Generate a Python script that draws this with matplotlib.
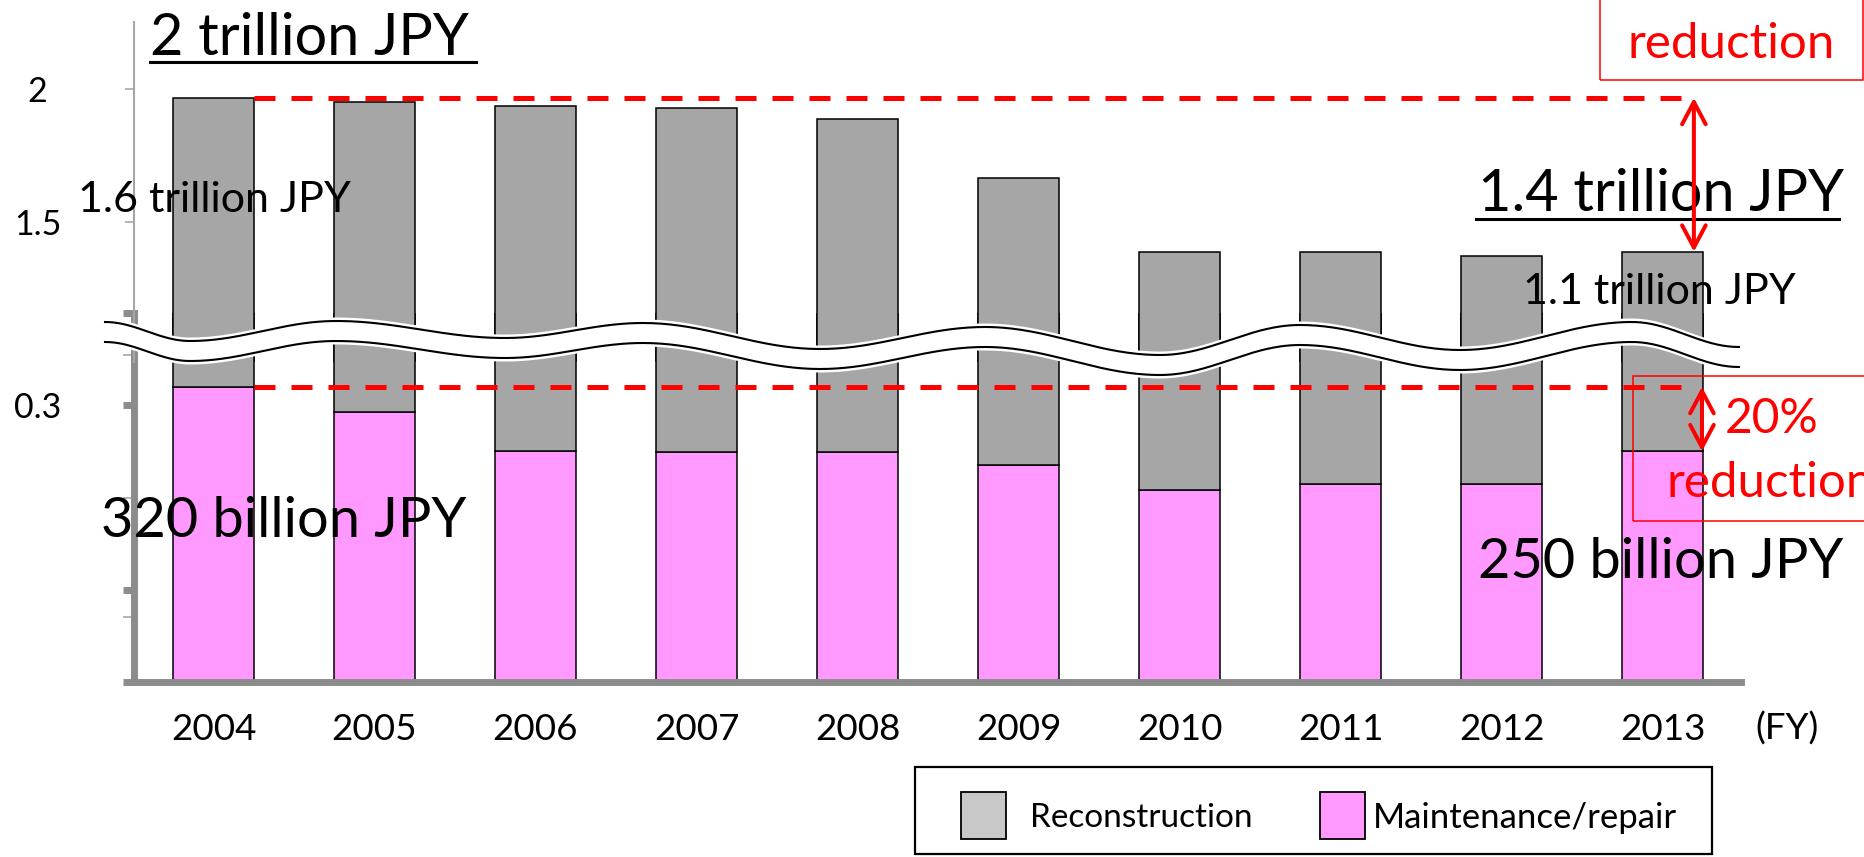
import numpy as np
import matplotlib
matplotlib.use("Agg")
import matplotlib.pyplot as plt
from matplotlib.patches import Rectangle, Polygon, FancyArrowPatch
from matplotlib.lines import Line2D
from matplotlib.ticker import FixedLocator, FixedFormatter

plt.rcParams['font.family'] = ['Lato', 'DejaVu Sans']

# ---- data (trillion JPY) ----
years = ['2004', '2005', '2006', '2007', '2008', '2009', '2010', '2011', '2012', '2013']
maintenance = [0.320, 0.2925, 0.250, 0.249, 0.249, 0.235, 0.208, 0.2145, 0.2145, 0.250]
reconstruction = [1.647, 1.6595, 1.686, 1.679, 1.639, 1.429, 1.179, 1.1725, 1.1585, 1.138]
upper_ticks = [1.5, 2.0]
upper_tick_labels = ['1.5', '2']
lower_ticks = [0.0, 0.1, 0.3, 0.4]
lower_tick_labels = ['', '', '0.3', '']
legend_labels = ['Reconstruction', 'Maintenance/repair']

totals = [m + r for m, r in zip(maintenance, reconstruction)]

# ---- styling ----
GRAY = '#a6a6a6'
GRAY_LEGEND = '#c8c8c8'
PINK = '#ff99ff'
AXIS_GRAY = '#8c8c8c'
RED = '#ff0000'

W, H = 1864, 857
fig = plt.figure(figsize=(W / 100, H / 100), dpi=100)


def fx(x):
    return x / W


def fy(y):
    return 1 - y / H


def px_to_pt(p):
    return p * 72 / 100


# two panels of a broken axis: lower (0 - 0.4) and upper (~1 - 2.25)
left_px, right_px = 133.5, 1741
pitch, first_center = 161.0, 213.5
xlim = ((left_px - first_center) / pitch, (right_px - first_center) / pitch)

ax_lo = fig.add_axes([fx(left_px), fy(682), (right_px - left_px) / W, (682 - 313) / H])
ax_up = fig.add_axes([fx(left_px), fy(362), (right_px - left_px) / W, (362 - 22) / H])

x = np.arange(len(years))
bar_w = 0.503

for ax in (ax_lo, ax_up):
    ax.patch.set_visible(False)
    ax.bar(x, maintenance, bar_w, color=PINK, edgecolor='black', linewidth=1.1, zorder=2)
    ax.bar(x, reconstruction, bar_w, bottom=maintenance, color=GRAY,
           edgecolor='black', linewidth=1.1, zorder=2)
    ax.set_xlim(*xlim)
    for s in ('top', 'right'):
        ax.spines[s].set_visible(False)

ax_lo.set_ylim(0, 0.4)
ax_up.set_ylim(2 - (362 - 89) / 266, 2 + (89 - 22) / 266)

# lower panel axes: heavy grey frame
ax_lo.spines['left'].set_linewidth(5)
ax_lo.spines['left'].set_color(AXIS_GRAY)
ax_lo.spines['bottom'].set_linewidth(5)
ax_lo.spines['bottom'].set_color(AXIS_GRAY)
ax_lo.yaxis.set_major_locator(FixedLocator(lower_ticks))
ax_lo.yaxis.set_major_formatter(FixedFormatter(lower_tick_labels))
ax_lo.yaxis.set_minor_locator(FixedLocator([0.07, 0.2, 0.354]))
ax_lo.tick_params(axis='y', which='major', length=px_to_pt(11), width=5, color=AXIS_GRAY,
                  labelsize=24.5, pad=px_to_pt(84.5))
ax_lo.tick_params(axis='y', which='minor', length=px_to_pt(11), width=1.2, color=GRAY)
for lab in ax_lo.get_yticklabels():
    lab.set_horizontalalignment('center')
ax_lo.set_xticks(x)
ax_lo.set_xticklabels(years)
ax_lo.tick_params(axis='x', length=0, labelsize=26.5, pad=22)

# upper panel axes: thin grey frame
ax_up.spines['bottom'].set_visible(False)
ax_up.spines['left'].set_linewidth(1.5)
ax_up.spines['left'].set_color(GRAY)
ax_up.set_xticks([])
ax_up.yaxis.set_major_locator(FixedLocator(upper_ticks))
ax_up.yaxis.set_major_formatter(FixedFormatter(upper_tick_labels))
ax_up.tick_params(axis='y', length=px_to_pt(9), width=1.2, color=GRAY,
                  labelsize=24.5, pad=px_to_pt(87))
for lab in ax_up.get_yticklabels():
    lab.set_horizontalalignment('center')

# ---- break mark: wavy white band with two black edges ----
wave_pts = [(105, 322), (190, 341), (336, 321), (505, 338), (643, 323), (820, 349),
            (985, 327), (1160, 355), (1300, 325), (1460, 350), (1632, 322), (1739, 347)]
wx, wy = [], []
for (x0, y0), (x1, y1) in zip(wave_pts[:-1], wave_pts[1:]):
    t = np.linspace(0, 1, 60)
    wx.append(x0 + (x1 - x0) * t)
    wy.append(y0 + (y1 - y0) * (1 - np.cos(np.pi * t)) / 2)
wx = np.concatenate(wx)
wy = np.concatenate(wy)
gap, halo = 20, 3.5
band = np.vstack([np.column_stack([fx(wx), fy(wy - halo)]),
                  np.column_stack([fx(wx[::-1]), fy(wy[::-1] + gap + halo)])])
fig.add_artist(Polygon(band, closed=True, facecolor='white', edgecolor='none',
                       transform=fig.transFigure, zorder=5))
for off in (0, gap):
    fig.add_artist(Line2D(fx(wx), fy(wy + off), color='black', linewidth=1.5,
                          transform=fig.transFigure, zorder=5.5))

# ---- reduction guides ----
arrow_x_up, arrow_x_lo = 9.195, 9.245
ax_up.plot([bar_w / 2, arrow_x_up], [totals[0], totals[0]], color=RED,
           linewidth=px_to_pt(5), dashes=(4.2, 3.2), dash_capstyle='butt', zorder=4)
ax_lo.plot([bar_w / 2, arrow_x_up], [maintenance[0], maintenance[0]], color=RED,
           linewidth=px_to_pt(5), dashes=(4.2, 3.2), dash_capstyle='butt', zorder=4)

arrow_style = '<->,head_length=1.6,head_width=0.85'
fig.add_artist(FancyArrowPatch((arrow_x_up, totals[0]), (arrow_x_up, totals[-1]),
                               arrowstyle=arrow_style, mutation_scale=10,
                               linewidth=px_to_pt(4), color=RED, shrinkA=0, shrinkB=0,
                               transform=ax_up.transData, zorder=8))
fig.add_artist(FancyArrowPatch((arrow_x_lo, maintenance[0]), (arrow_x_lo, maintenance[-1]),
                               arrowstyle=arrow_style, mutation_scale=10,
                               linewidth=px_to_pt(4), color=RED, shrinkA=0, shrinkB=0,
                               transform=ax_lo.transData, zorder=8))


def box(x0, y0, x1, y1, color, lw, fc='none', z=6):
    fig.add_artist(Rectangle((fx(x0), fy(y1)), (x1 - x0) / W, (y1 - y0) / H,
                             transform=fig.transFigure, facecolor=fc, edgecolor=color,
                             linewidth=lw, zorder=z))


def label(xp, yp, s, size, color='black', ha='left', va='baseline', z=7):
    return fig.text(fx(xp), fy(yp), s, fontsize=size, color=color, ha=ha, va=va, zorder=z)


def underline(x0, x1, yp, lw=2.2):
    fig.add_artist(Line2D([fx(x0), fx(x1)], [fy(yp), fy(yp)], color='black',
                          linewidth=lw, transform=fig.transFigure, zorder=7))


box(1600, -10, 1863, 80, RED, 1.1)
label(1731, 58, 'reduction', 35.5, color=RED, ha='center')
box(1633, 376, 1880, 521, RED, 1.1)
label(1725, 433, '20%', 34.5, color=RED)
label(1667, 497, 'reduction', 35.5, color=RED)

# ---- value call-outs ----
label(150, 55, f'{totals[0]:.0f} trillion JPY', 41.5)
underline(150, 476, 62)
label(78, 212, f'{reconstruction[0]:.1f} trillion JPY', 31)
label(1478, 211, f'{totals[-1]:.1f} trillion JPY', 41.5)
underline(1476, 1839, 219)
label(1523, 304, f'{reconstruction[-1]:.1f} trillion JPY', 31)
label(101, 537, f'{maintenance[0] * 1000:.0f} billion JPY', 40.2)
label(1478, 578, f'{maintenance[-1] * 1000:.0f} billion JPY', 40.2)
label(1787, 729, '(FY)', 26.5, ha='center', va='center')

# ---- legend ----
box(915, 767, 1712, 854, 'black', 1.6, fc='white', z=6)
box(961, 792, 1006, 839, 'black', 1.3, fc=GRAY_LEGEND, z=6.5)
label(1030, 818, legend_labels[0], 24, va='center')
box(1320, 792, 1365, 839, 'black', 1.3, fc=PINK, z=6.5)
label(1373, 818, legend_labels[1], 25, va='center')

fig.savefig('out.png', dpi=100)
